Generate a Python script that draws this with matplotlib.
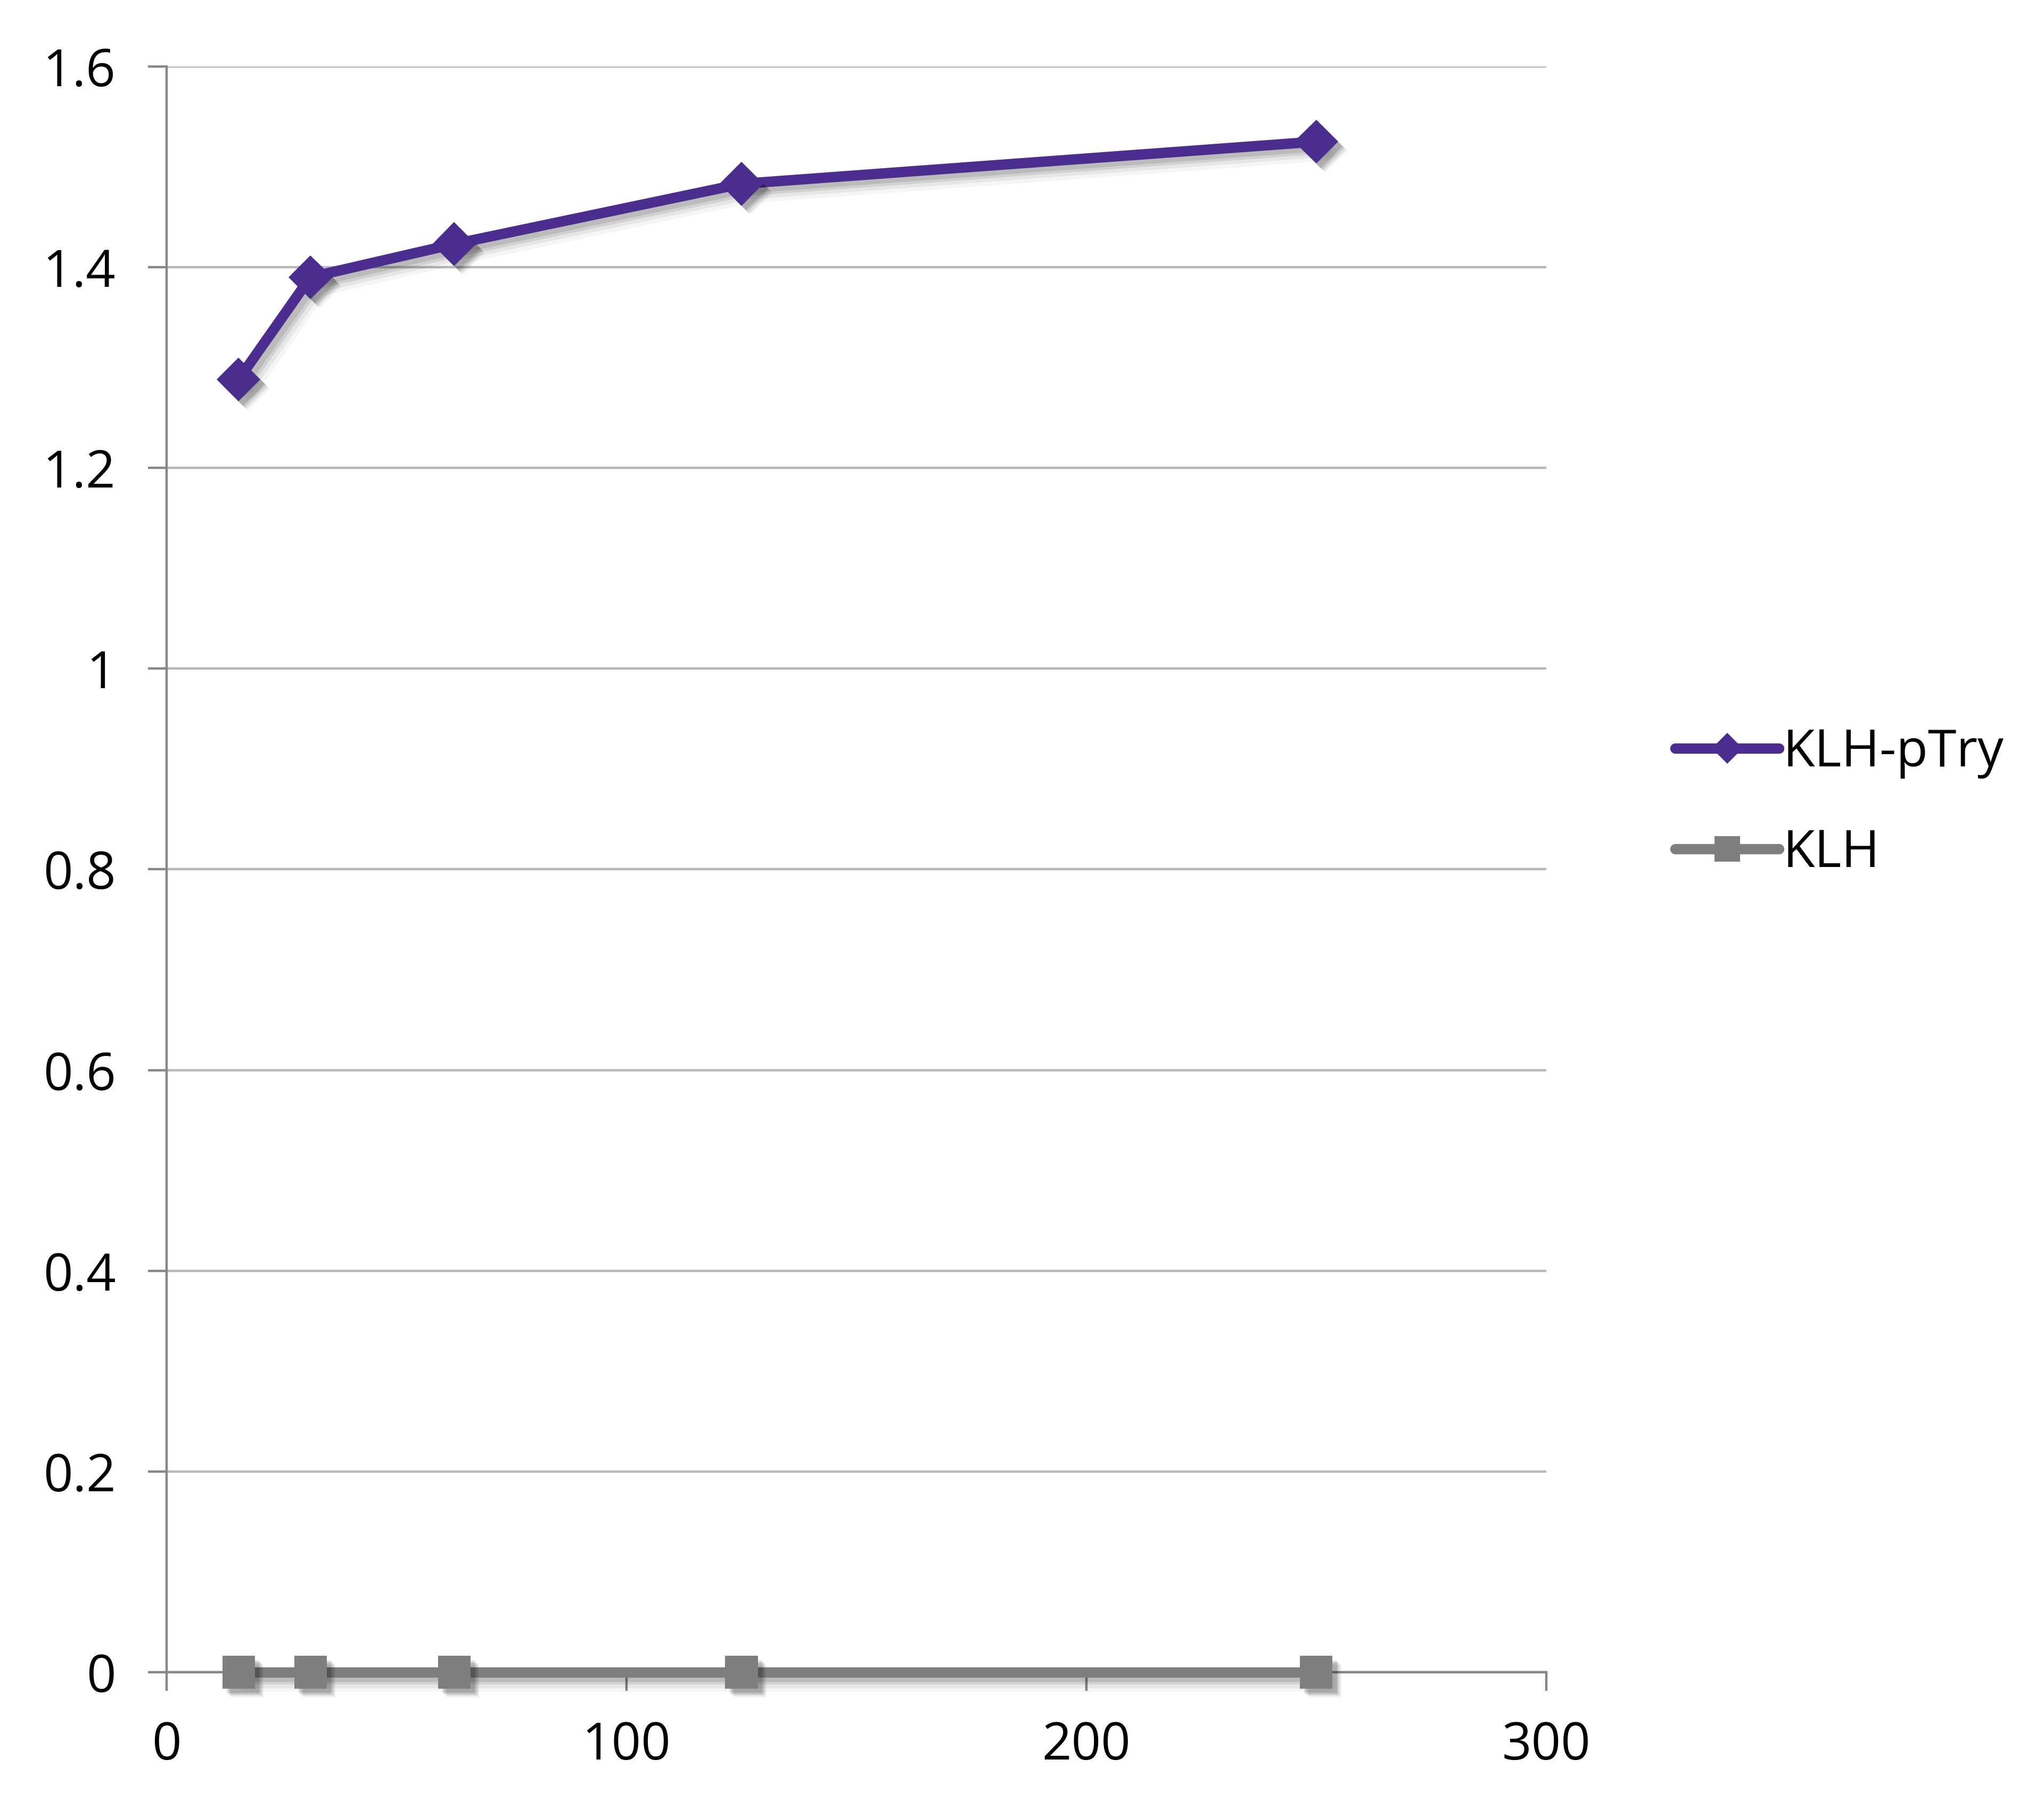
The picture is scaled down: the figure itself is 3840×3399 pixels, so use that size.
import matplotlib
matplotlib.use("Agg")
import matplotlib.pyplot as plt
import matplotlib.patheffects as pe
from matplotlib.lines import Line2D
from matplotlib.ticker import FuncFormatter

# ---------------------------------------------------
# Data
# ---------------------------------------------------
concentration = [15.6, 31.25, 62.5, 125, 250]
klh_ptry = [1.288, 1.390, 1.423, 1.483, 1.525]
klh = [0.0, 0.0, 0.0, 0.0, 0.0]

series_names = ["KLH-pTry", "KLH"]
x_ticks = [0, 100, 200, 300]
y_ticks = [0, 0.2, 0.4, 0.6, 0.8, 1.0, 1.2, 1.4, 1.6]

purple = "#4B2C8F"
gray = "#7F7F7F"

plt.rcParams['font.family'] = ['Open Sans', 'DejaVu Sans']

fig = plt.figure(figsize=(38.4, 33.99), dpi=100)
ax = fig.add_axes([0.0816, 0.0756, 0.6748, 0.8877])

# soft drop shadow, faked with a few offset layers
line_shadow = [pe.SimpleLineShadow(offset=(o, -o), shadow_color="black", alpha=a, linewidth=lw)
               for o, a, lw in [(12, 0.04, 28), (10, 0.06, 22), (8, 0.09, 17), (6, 0.10, 14)]]
marker_shadow = [pe.SimplePatchShadow(offset=(o, -o), shadow_rgbFace="black", alpha=a)
                 for o, a in [(12, 0.06), (10, 0.08), (8, 0.10), (6, 0.12)]]

for y, color, marker, ms in [(klh_ptry, purple, "D", 42), (klh, gray, "s", 44)]:
    ax.plot(concentration, y, color=color, linewidth=14, solid_capstyle="round",
            clip_on=False, zorder=3, path_effects=line_shadow + [pe.Normal()])
    ax.plot(concentration, y, linestyle="none", marker=marker, markersize=ms,
            color=color, markeredgewidth=0, clip_on=False, zorder=4,
            path_effects=marker_shadow + [pe.Normal()])

ax.set_xlim(0, 300)
ax.set_ylim(0, 1.6)
ax.set_xticks(x_ticks)
ax.set_yticks(y_ticks)
ax.yaxis.set_major_formatter(FuncFormatter(lambda v, p: "%g" % round(v, 1)))

ax.grid(axis="y", color="#B8B8B8", linewidth=3.2)
ax.set_axisbelow(True)
for side in ["top", "right"]:
    ax.spines[side].set_visible(False)
for side in ["left", "bottom"]:
    ax.spines[side].set_color("#878787")
    ax.spines[side].set_linewidth(3.2)

ax.tick_params(axis="both", length=25, width=3.2, color="#878787", labelsize=70)
ax.tick_params(axis="y", pad=44)
ax.tick_params(axis="x", pad=40)

# legend, no shadows, smaller markers
handles = [Line2D([], [], color=purple, linewidth=14, marker="D", markersize=30,
                  markeredgewidth=0, solid_capstyle="round"),
           Line2D([], [], color=gray, linewidth=14, marker="s", markersize=34,
                  markeredgewidth=0, solid_capstyle="round")]
fig.legend(handles, series_names, loc="center left", bbox_to_anchor=(0.807, 0.556),
           frameon=False, fontsize=70, handlelength=2.0, handletextpad=0.08,
           labelspacing=0.95, borderpad=0)

fig.savefig("out.png", dpi=100, facecolor="white")
